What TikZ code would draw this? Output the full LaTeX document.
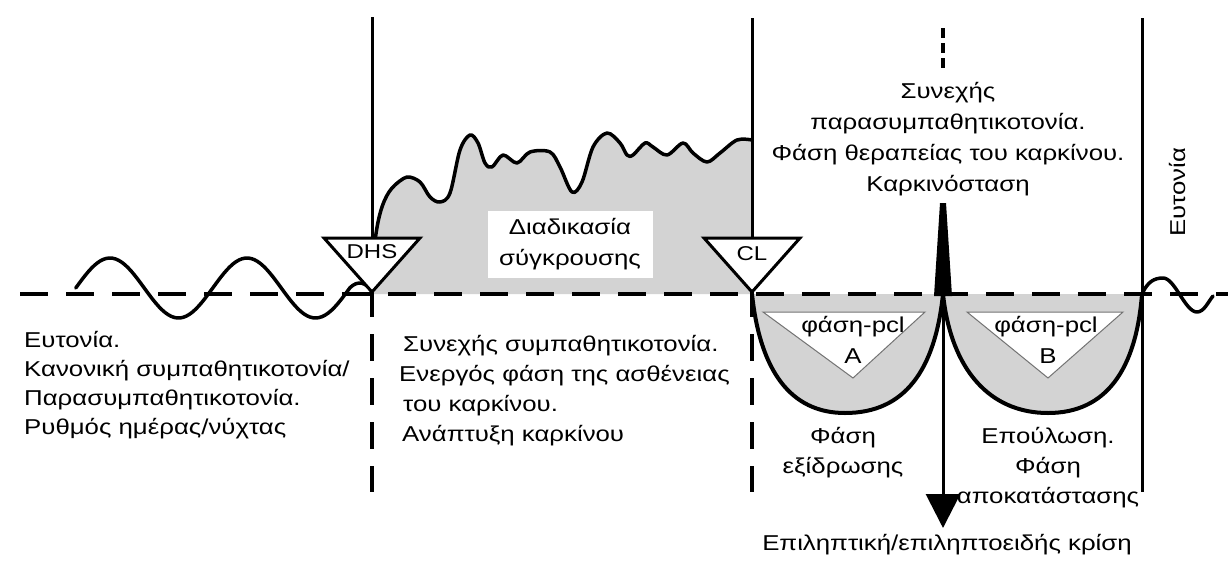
\documentclass[tikz,border=0pt]{standalone}
\usepackage{fontspec}
\setmainfont{Liberation Sans}[FakeStretch=1.2]
\usetikzlibrary{arrows.meta}
\definecolor{areagrey}{RGB}{211,211,211}
\newcommand\conflictcurve{(372,292) .. controls (373,240) and (378,200) .. (395,185) -- plot[smooth, tension=0.55] coordinates{(395,185)(407,177)(420,182)(430,197)(440,202)(450,193)(460,150)(470,135)(478,143)(485,163)(492,167)(503,155)(517,163)(530,152)(550,152)(560,167)(572,192)(582,182)(593,147)(607,133)(620,143)(627,155)(633,155)(645,143)(653,147)(667,155)(683,143)(693,153)(707,162)(720,153)(737,140)(752,140)}}
\begin{document}
\begin{tikzpicture}[x=1pt,y=-1pt,
  txt/.style={inner sep=0pt, font=\fontsize{21.5}{29}\selectfont},
  smalltxt/.style={inner sep=0pt, font=\fontsize{20}{22}\selectfont},
  pcltxt/.style={inner sep=0pt, font=\fontsize{21.5}{22}\selectfont},
  baseline dash/.style={line width=4pt, dash pattern=on 28pt off 18pt},
  vdash/.style={line width=4pt, dash pattern=on 27pt off 17pt},
  solidv/.style={line width=3pt},
  wave/.style={line width=3.5pt, line join=round, line cap=round},
  marker/.style={draw, line width=3pt, fill=white, line join=miter},
  pcl/.style={draw=black!55, line width=1pt, fill=white},
]
\useasboundingbox (0,0) rectangle (1231,565);
% coordinates
\coordinate (dhsTop) at (372,17);
\coordinate (dhsBase) at (372,294);
\coordinate (dhsBot) at (372,492);
\coordinate (clTop) at (752,18);
\coordinate (clBase) at (752,294);
\coordinate (clBot) at (752,492);
\coordinate (euTop) at (1142,18);
\coordinate (euBot) at (1142,492);
\coordinate (midTop) at (943,28);
\coordinate (midEnd) at (943,72);
\coordinate (spike) at (943,294);
\coordinate (arrowEnd) at (943,528);
\coordinate (lineL) at (20,294);
\coordinate (lineR) at (1228,294);
% grey areas
\fill[areagrey] (372,294) -- \conflictcurve -- (752,294) -- cycle;
\fill[areagrey] (752,294) .. controls (760,370) and (790,413) .. (845,413) .. controls (905,413) and (935,370) .. (943,294) -- cycle;
\fill[areagrey] (943,294) .. controls (951,370) and (990,413) .. (1048,413) .. controls (1106,413) and (1136,370) .. (1142,294) -- cycle;
% label box
\node[txt, fill=white, minimum width=165pt, minimum height=67pt, align=center, font=\fontsize{21.5}{31}\selectfont] (conflict) at (570,244) {Διαδικασία\\σύγκρουσης};
% baseline
\draw[baseline dash] (lineL) -- (lineR);
% verticals
\draw[solidv] (dhsTop) -- (dhsBase);
\draw[solidv] (clTop) -- (clBase);
\draw[solidv] (euTop) -- (euBot);
\draw[vdash] ([yshift=4pt]dhsBase) -- (dhsBot);
\draw[vdash] ([yshift=4pt]clBase) -- (clBot);
\draw[line width=3.5pt, dash pattern=on 10pt off 5pt] (midTop) -- (midEnd);
% curves
\draw[wave] \conflictcurve;
\draw[wave] plot[domain=75.75:350, samples=90] (\x,{288-30*sin(((\x-75.75)/137)*360)}) .. controls (358,280) and (366,282) .. (372,292);
\draw[wave] (1143,292) .. controls (1148,282) and (1154,278) .. (1163,278) .. controls (1175,278) and (1185,312) .. (1197,312) .. controls (1204,312) and (1208,302) .. (1213,296);
\draw[line width=4pt, line join=round] (752,294) .. controls (760,370) and (790,413) .. (845,413) .. controls (905,413) and (935,370) .. (943,294) .. controls (951,370) and (990,413) .. (1048,413) .. controls (1106,413) and (1136,370) .. (1142,294);
% spike and arrow
\fill (934,296) -- (940,203) -- (946,203) -- (952,296) -- cycle;
\draw[line width=3pt, -{Triangle[width=34pt,length=34pt]}] (spike) -- (arrowEnd);
% markers
\draw[marker] (324,238) -- (420,238) -- (372,292) -- cycle;
\draw[marker] (704,238) -- (800,238) -- (752,292) -- cycle;
\node[smalltxt] (dhs) at (372,252) {DHS};
\node[smalltxt] (cl) at (752,254) {CL};
% pcl triangles
\draw[pcl] (763,312) -- (925,312) -- (853,378) -- cycle;
\draw[pcl] (967,312) -- (1123,312) -- (1048,378) -- cycle;
\node[pcltxt] (pclA) at (853,327) {φάση-pcl};
\node[pcltxt] (letterA) at (853,356) {A};
\node[pcltxt] (pclB) at (1046,327) {φάση-pcl};
\node[pcltxt] (letterB) at (1048,356) {B};
% texts
\node[txt, anchor=north west, align=left] (lefttxt) at (24,331) {Ευτονία.\\Κανονική συμπαθητικοτονία/\\Παρασυμπαθητικοτονία.\\Ρυθμός ημέρας/νύχτας};
\node[txt, anchor=north west, align=left, font=\fontsize{21.5}{30}\selectfont] (midtxt) at (399,335) {\hspace{4pt}Συνεχής συμπαθητικοτονία.\\Ενεργός φάση της ασθένειας\\\hspace{4pt}του καρκίνου.\\\hspace{3pt}Ανάπτυξη καρκίνου};
\node[txt, anchor=north, align=center, font=\fontsize{21.5}{31}\selectfont] (toptxt) at (948,82) {Συνεχής\\παρασυμπαθητικοτονία.\\Φάση θεραπείας του καρκίνου.\\Καρκινόσταση};
\node[txt, rotate=90] (eutonia) at (1177,192) {Ευτονία};
\node[txt, anchor=north, align=center, font=\fontsize{21.5}{30}\selectfont] (exudation) at (843,427) {Φάση\\εξίδρωσης};
\node[txt, anchor=north, align=center, font=\fontsize{21.5}{30}\selectfont] (healing) at (1048,427) {Επούλωση.\\Φάση\\αποκατάστασης};
\node[txt] (seizure) at (947,545) {Επιληπτική/επιληπτοειδής κρίση};
\end{tikzpicture}
\end{document}
